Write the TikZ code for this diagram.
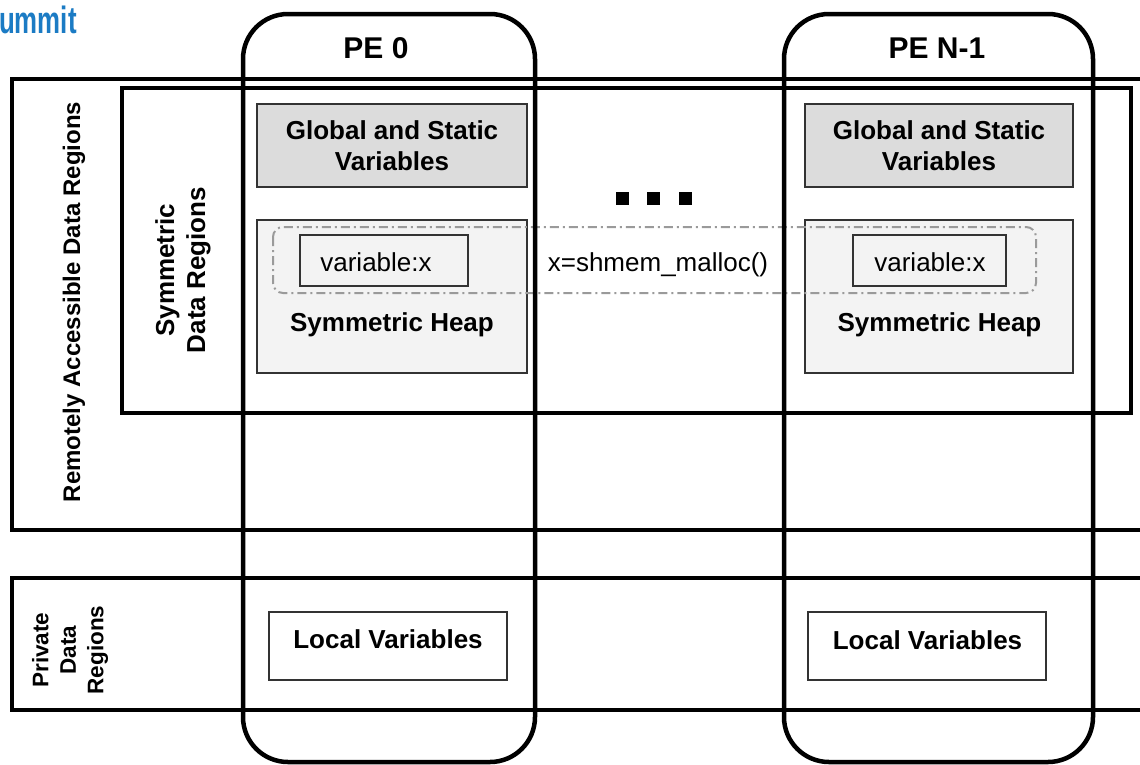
\documentclass[tikz,border=0pt]{standalone}
\usepackage{fontspec}
\setmainfont{Liberation Sans}
\definecolor{gsvfill}{HTML}{DCDCDC}
\definecolor{heapfill}{HTML}{F3F3F3}
\definecolor{cellline}{HTML}{333333}
\definecolor{groupline}{HTML}{9A9A9A}
\definecolor{brandblue}{HTML}{1B7BC4}
\tikzset{
  pecol/.style={draw=black, line width=4.5pt, rounded corners=45pt},
  region/.style={draw=black, line width=4.5pt},
  cellbox/.style={draw=cellline, line width=1.3pt, inner sep=0pt, rectangle},
  bigtxt/.style={font=\bfseries\fontsize{26}{31}\selectfont, align=center, inner sep=0pt},
  plaintxt/.style={font=\fontsize{26}{31}\selectfont, inner sep=0pt},
  petitle/.style={font=\bfseries\fontsize{30}{36}\selectfont, inner sep=0pt},
  sidelbl/.style={rotate=90, align=center, inner sep=0pt},
  dotmark/.style={fill=black, minimum size=13pt, inner sep=0pt, rectangle},
  groupbox/.style={draw=groupline, line width=2pt, rounded corners=10pt,
    dash pattern=on 9pt off 4pt on 2pt off 4pt}
}
\begin{document}
\begin{tikzpicture}[x=1pt,y=-1pt]
\useasboundingbox (0,0) rectangle (1140,764);
\clip (0,0) rectangle (1140,764);
\fill[white] (0,0) rectangle (1140,764);

% brand fragment in the corner
\node[anchor=base west, inner sep=0pt, text=brandblue, xscale=0.68,
      font=\bfseries\fontsize{38}{40}\selectfont] (brand) at (-1,33) {ummit};

% symmetric heap cells
\node[cellbox, fill=heapfill, minimum width=270pt, minimum height=153pt] (heap0) at (392,296.5) {};
\node[cellbox, fill=heapfill, minimum width=268pt, minimum height=153pt] (heapN) at (939,296.5) {};

% global / static cells
\node[cellbox, fill=gsvfill, minimum width=270pt, minimum height=83pt] (gsv0) at (392,145.5) {};
\node[cellbox, fill=gsvfill, minimum width=268pt, minimum height=83pt] (gsvN) at (939,145.5) {};
\node[bigtxt] at (gsv0.center) {Global and Static\\Variables};
\node[bigtxt] at (gsvN.center) {Global and Static\\Variables};

% symmetric allocation group
\draw[groupbox] (273,227) rectangle (1036,293);

% variable cells
\node[cellbox, fill=heapfill, minimum width=168pt, minimum height=51pt] (var0) at (384,260.5) {};
\node[cellbox, fill=heapfill, minimum width=153pt, minimum height=51pt] (varN) at (929.5,260.5) {};
\node[plaintxt, anchor=base] (var0t) at (376,271) {variable:x};
\node[plaintxt, anchor=base] (varNt) at (930,271) {variable:x};
\node[plaintxt, anchor=base] (alloc) at (658,271) {x=shmem\_malloc()};

\node[bigtxt, anchor=base] (heap0t) at (392,331) {Symmetric Heap};
\node[bigtxt, anchor=base] (heapNt) at (939.5,331) {Symmetric Heap};

% local variable cells
\node[cellbox, fill=white, minimum width=238pt, minimum height=68pt] (loc0) at (388,646) {};
\node[cellbox, fill=white, minimum width=238pt, minimum height=68pt] (locN) at (927,646) {};
\node[bigtxt, anchor=base] at (388,648) {Local Variables};
\node[bigtxt, anchor=base] at (927.5,649) {Local Variables};

% ellipsis between processing elements
\node[dotmark] (d1) at (622.5,198.5) {};
\node[dotmark] (d2) at (653.5,198.5) {};
\node[dotmark] (d3) at (685.5,198.5) {};

% memory region frames
\draw[region] (12,79) rectangle (1160,530);
\draw[region] (122,88) rectangle (1131,413);
\draw[region] (12,578) rectangle (1160,710);

% processing element columns
\draw[pecol] (243,14) rectangle (535,762);
\draw[pecol] (784,14) rectangle (1093,762);
\node[petitle] (pe0) at (376,48) {PE 0};
\node[petitle] (peN) at (937,48) {PE N-1};

% region labels
\node[sidelbl, font=\bfseries\fontsize{24}{28}\selectfont] (remote) at (74,302) {Remotely Accessible Data Regions};
\node[sidelbl, font=\bfseries\fontsize{26}{31}\selectfont] (symm) at (183,270) {Symmetric\\Data Regions};
\node[sidelbl, font=\bfseries\fontsize{22.5}{27.5}\selectfont] (priv) at (70,650) {Private\\Data\\Regions};
\end{tikzpicture}
\end{document}
